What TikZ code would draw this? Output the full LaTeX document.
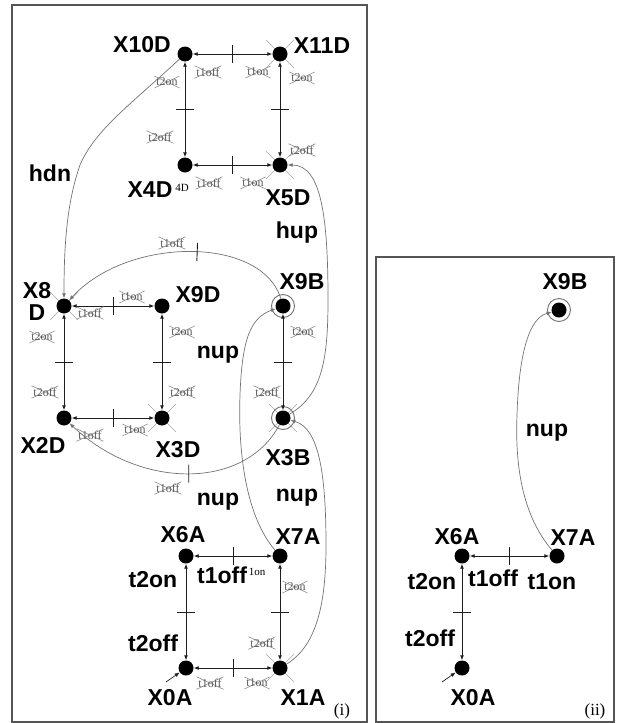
\documentclass[tikz,border=0pt]{standalone}
\usepackage{fontspec}
\setmainfont{Liberation Serif}
\setsansfont{Liberation Sans}
\usetikzlibrary{arrows.meta,decorations.markings}
\definecolor{EdgeGray}{RGB}{30,30,30}
\definecolor{ArcGray}{RGB}{115,115,115}
\definecolor{OffGray}{RGB}{90,90,90}
\definecolor{FrameGray}{RGB}{85,85,85}
\pgfdeclarelayer{bg}
\pgfsetlayers{bg,main}
\newcommand\labfont{\fontsize{23}{22}\selectfont\sffamily\bfseries}
\tikzset{
  st/.style={circle,fill=black,inner sep=0pt,minimum size=15pt},
  ring/.style={draw=ArcGray,line width=.9pt},
  lab/.style={font=\labfont,align=center,inner sep=0pt},
  smalltxt/.style={font=\fontsize{11}{11}\selectfont\rmfamily,inner sep=0pt},
  offtxt/.style={font=\fontsize{12}{12}\selectfont\rmfamily,text=OffGray,inner sep=2pt,
    path picture={\draw[black!45,line width=.6pt]
      (path picture bounding box.south west) -- (path picture bounding box.north east)
      (path picture bounding box.north west) -- (path picture bounding box.south east);}},
  xmark/.style={draw=black!35,line width=.6pt},
  trans/.style={draw=EdgeGray,line width=.9pt,{Latex[length=5pt,width=4pt]}-{Latex[length=5pt,width=4pt]},tk},
  tk/.style={postaction={decorate,decoration={markings,
    mark=at position #1 with {\draw[-,EdgeGray,line width=.9pt] (0,-9pt) -- (0,9pt);}}}},
  tk/.default=.5,
  link/.style={draw=ArcGray,line width=.7pt,-{Latex[length=5pt,width=4pt]}},
  frame/.style={draw=FrameGray,line width=1.4pt},
}
\begin{document}
\begin{tikzpicture}[x=1pt,y=-1pt]
\useasboundingbox (0,0) rectangle (617,723);
\draw[frame] (12,5) rectangle (367,722);
\draw[frame] (376,257) rectangle (614,722);
\foreach \n/\x/\y in {10D/185/54,11D/280/54,4D/185/165,5D/280/165,
    8D/64/306,9D/162/306,2D/64/418,3D/162/418,9B/283/306,3B/283/418,
    6A/186/556,7A/280/556,0A/186/668,1A/280/668}
  \node[st] (n\n) at (\x,\y) {};
\foreach \n/\x/\y in {9B/559/310,6A/462/556,7A/557/556,0A/462/668}
  \node[st] (m\n) at (\x,\y) {};
\foreach \n in {n9B,n3B,m9B}
  \draw[ring] (\n) circle (11.5);
\begin{pgfonlayer}{bg}
\foreach \n in {n11D,n5D,n8D,n3D,n3B,n1A}
  \draw[xmark] (\n) +(-14,-14) -- +(14,14) (\n) +(-14,14) -- +(14,-14);
\end{pgfonlayer}
\foreach \a/\b in {n10D/n11D,n10D/n4D,n11D/n5D,n4D/n5D,n8D/n9D,n8D/n2D,n9D/n3D,
    n2D/n3D,n9B/n3B,n6A/n7A,n6A/n0A,n7A/n1A,n0A/n1A,m6A/m7A,m6A/m0A}
  \draw[trans] (\a) -- (\b);
\draw[link] (n10D) .. controls (130,105) and (95,130) .. (80,165)
  .. controls (66,205) and (64,250) .. (n8D);
\draw[link,tk=.42] (n9B) .. controls (262,236) and (128,236) .. (n8D);
\draw[link,tk=.45] (n3B) .. controls (245,490) and (140,490) .. (n2D);
\draw[link] (n3B) .. controls (322,395) and (328,360) .. (328,300)
  .. controls (328,220) and (322,165) .. (n5D);
\draw[link] (n7A) .. controls (245,515) and (238,450) .. (240,395)
  .. controls (242,340) and (250,318) .. (n9B);
\draw[link] (n1A) .. controls (318,645) and (326,600) .. (326,545)
  .. controls (326,470) and (318,428) .. (n3B);
\draw[link] (m7A) .. controls (522,515) and (515,465) .. (517,415)
  .. controls (519,350) and (530,318) .. (m9B);
\coordinate (in0) at (166,682);
\coordinate (in1) at (442,682);
\draw[link,draw=EdgeGray] (in0) -- (n0A);
\draw[link,draw=EdgeGray] (in1) -- (m0A);
\foreach \t/\x/\y [count=\i] in {X10D/142/45,X11D/322/46,X4D/150/190,X5D/288/198,
    hdn/50/173,hup/297/233,X8\\D/37/301,X9D/198/295,X9B/302/282,nup/218/355,
    X2D/43/445,X3D/178/450,X3B/288/458,nup/218/502,nup/297/498,X6A/183/535,
    X7A/298/537,t2on/153/580,t1off/222/575,t2off/153/643,X0A/170/698,X1A/303/698,
    X9B/565/282,nup/547/433,X6A/457/537,X7A/573/538,t2on/432/582,t1off/493/578,
    t1on/552/582,t2off/430/638,X0A/473/698}
  \node[lab] (lab\i) at (\x,\y) {\t};
\foreach \t/\x/\y [count=\i] in {t1off/208/72,t1on/258/72,t2on/167/82,t2on/302/78,
    t2off/160/137,t2off/302/150,t1off/209/183,t1on/253/183,
    t1off/172/243,t1on/132/297,t1off/90/313,t2on/42/337,t2on/182/332,
    t2off/45/392,t2off/182/392,t1off/90/435,t1on/135/430,t2on/303/332,
    t2off/267/392,t1off/168/488,t2on/295/587,t2off/262/643,t1off/210/683,t1on/257/683}
  \node[offtxt] (off\i) at (\x,\y) {\t};
\node[smalltxt] (aux4D) at (182,188) {4D};
\node[smalltxt] (aux1on) at (257,572) {1on};
\node[font=\fontsize{17}{17}\selectfont\rmfamily,inner sep=0pt] (capi) at (342,711) {(i)};
\node[font=\fontsize{17}{17}\selectfont\rmfamily,inner sep=0pt] (capii) at (595,711) {(ii)};
\end{tikzpicture}
\end{document}
